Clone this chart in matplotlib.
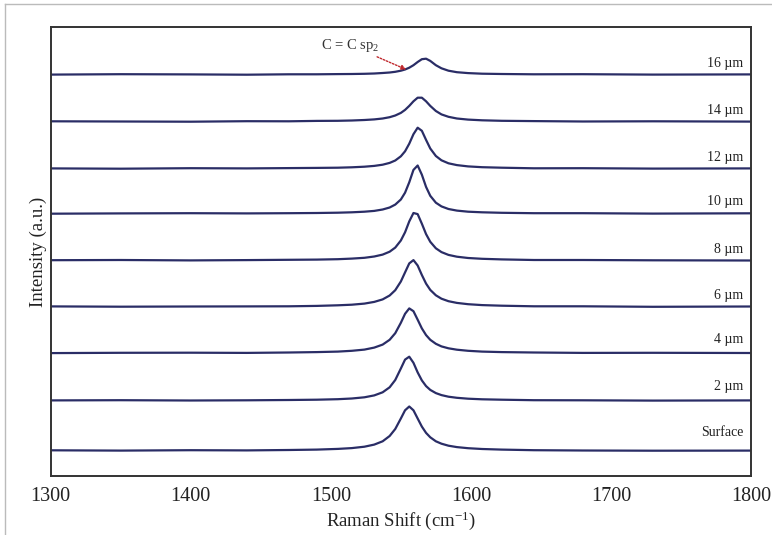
import matplotlib
matplotlib.use("Agg")
import matplotlib.pyplot as plt
from matplotlib.lines import Line2D

plt.rcParams['font.family'] = ['Liberation Serif', 'DejaVu Serif']
plt.rcParams['mathtext.fontset'] = 'custom'
plt.rcParams['mathtext.rm'] = 'Liberation Serif'
plt.rcParams['mathtext.it'] = 'Liberation Serif:italic'

# Raman shift grid (cm^-1)
shift = [1300, 1350, 1400, 1440, 1470, 1490, 1505, 1515, 1524, 1531, 1537, 1542,
         1546, 1550, 1553, 1556, 1559, 1562, 1565, 1568, 1571, 1575, 1579, 1584,
         1590, 1598, 1608, 1622, 1645, 1680, 1730, 1800]

# Intensities (a.u.) above each spectrum's own baseline
surface = [0.2, -0.1, 0.3, 0.1, 0.5, 0.9, 1.6, 2.4, 3.8, 5.9, 9.2, 14.5, 21.5, 32.0, 40.2, 44.0,
           40.2, 32.0, 23.9, 17.6, 13.2, 9.2, 6.8, 4.8, 3.4, 2.3, 1.5, 0.9, 0.3, 0.0, -0.2, -0.1]
um2 = [0.1, 0.3, 0.0, 0.2, 0.5, 0.8, 1.3, 2.0, 3.2, 5.1, 8.2, 13.2, 20.5, 32.0, 40.9, 43.8,
       37.7, 28.1, 20.1, 14.4, 10.6, 7.4, 5.4, 3.8, 2.7, 1.8, 1.2, 0.8, 0.3, 0.2, -0.1, 0.1]
um4 = [-0.1, 0.2, 0.3, 0.1, 0.5, 0.9, 1.4, 2.2, 3.4, 5.4, 8.4, 13.2, 19.8, 30.2, 39.2, 44.6,
       41.8, 33.3, 24.6, 17.9, 13.2, 9.2, 6.6, 4.7, 3.3, 2.2, 1.4, 0.9, 0.5, 0.1, 0.2, 0.0]
um6 = [0.3, 0.0, 0.2, 0.3, 0.4, 0.8, 1.4, 2.0, 3.1, 4.8, 7.3, 11.2, 16.5, 25.2, 34.3, 43.3,
       46.6, 41.2, 31.7, 23.1, 16.8, 11.4, 8.0, 5.5, 3.8, 2.5, 1.6, 1.0, 0.4, 0.4, -0.1, 0.2]
um8 = [0.1, 0.3, -0.1, 0.2, 0.5, 0.7, 1.1, 1.7, 2.5, 3.8, 5.7, 8.6, 12.7, 19.8, 28.0, 38.9,
       47.3, 46.2, 36.6, 26.2, 18.5, 12.0, 8.2, 5.4, 3.6, 2.3, 1.5, 0.9, 0.3, 0.3, 0.0, -0.2]
um10 = [-0.2, 0.1, 0.3, 0.1, 0.3, 0.5, 0.8, 1.2, 1.8, 2.6, 4.0, 6.0, 8.9, 14.0, 20.8, 31.2,
        43.6, 48.0, 38.8, 26.6, 17.7, 10.8, 7.1, 4.5, 2.9, 1.8, 1.2, 0.7, 0.3, 0.3, -0.1, 0.2]
um12 = [0.1, -0.2, 0.3, 0.1, 0.4, 0.6, 0.8, 1.2, 1.8, 2.6, 3.8, 5.6, 8.0, 12.2, 17.2, 24.8,
        34.3, 40.8, 37.7, 28.6, 20.0, 12.5, 8.2, 5.2, 3.4, 2.1, 1.3, 0.8, 0.2, 0.3, -0.1, 0.1]
um14 = [0.2, 0.0, -0.2, 0.3, 0.2, 0.6, 0.7, 1.0, 1.5, 2.1, 3.0, 4.3, 6.0, 8.6, 11.6, 15.6,
        20.2, 23.8, 23.8, 20.2, 15.6, 10.5, 7.1, 4.7, 3.0, 1.9, 1.2, 0.7, 0.4, 0.0, 0.2, -0.1]
um16 = [-0.1, 0.3, 0.1, -0.2, 0.2, 0.2, 0.4, 0.5, 0.7, 1.0, 1.5, 2.0, 2.7, 3.8, 5.0, 6.8,
        9.3, 12.5, 15.3, 15.8, 13.6, 9.3, 6.2, 3.8, 2.3, 1.4, 0.8, 0.5, 0.2, 0.3, -0.1, 0.1]

spectra = [surface, um2, um4, um6, um8, um10, um12, um14, um16]
labels = ["Surface", "2 µm", "4 µm", "6 µm", "8 µm", "10 µm", "12 µm", "14 µm", "16 µm"]
offsets = [25.5, 75.5, 123.0, 169.3, 215.7, 262.5, 307.5, 354.5, 401.5]
label_gap = [17.8, 13.8, 13.0, 10.7, 10.3, 11.8, 10.5, 10.8, 11.2]

xticks = [1300, 1400, 1500, 1600, 1700, 1800]

line_color = '#2a2d66'

fig = plt.figure(figsize=(7.72, 5.35), dpi=100)
ax = fig.add_axes([50.7 / 772, 1 - 476 / 535, 700.3 / 772, 449 / 535])

for vals, off, lab, gap in zip(spectra, offsets, labels, label_gap):
    ax.plot(shift, [v + off for v in vals], color=line_color, lw=1.6, solid_joinstyle='round')
    ax.text(1794.5, off + gap, lab, ha='right', va='center', fontsize=10, color='#222222')

ax.annotate("C = C sp$_2$", xy=(1553.8, 406.5), xytext=(1534.5, 431),
            ha='right', va='center', fontsize=10.5, color='#333333',
            arrowprops=dict(arrowstyle='-|>', color='#c0282d', lw=1.0,
                            linestyle=(0, (1.2, 1.2)), mutation_scale=7,
                            shrinkA=1, shrinkB=0))

ax.set_xlim(1300, 1800)
ax.set_ylim(0, 449)
ax.set_xticks(xticks)
ax.set_xticklabels([str(t) for t in xticks])
ax.set_yticks([])
ax.tick_params(axis='x', length=0, pad=8, labelsize=14.5, labelcolor='#222222')
for sp in ax.spines.values():
    sp.set_color('#333333')
    sp.set_linewidth(1.4)

ax.set_xlabel("Raman Shift (cm$^{-1}$)", fontsize=13.5, color='#222222')
ax.xaxis.set_label_coords(0.5, (476 - 521) / 449)
ax.xaxis.label.set_va('center')
ax.set_ylabel("Intensity (a.u.)", fontsize=13.5, color='#222222')
ax.yaxis.set_label_coords((38 - 50.7) / 700.3, 0.5)
ax.yaxis.label.set_va('center')

# light frame lines of the original screenshot
fig.add_artist(Line2D([5 / 772, 1], [1 - 4 / 535, 1 - 4 / 535], transform=fig.transFigure,
                      color='#bbbbbb', lw=1.0))
fig.add_artist(Line2D([5 / 772, 5 / 772], [0, 1 - 4 / 535], transform=fig.transFigure,
                      color='#bbbbbb', lw=1.0))

fig.savefig("out.png", dpi=100)
